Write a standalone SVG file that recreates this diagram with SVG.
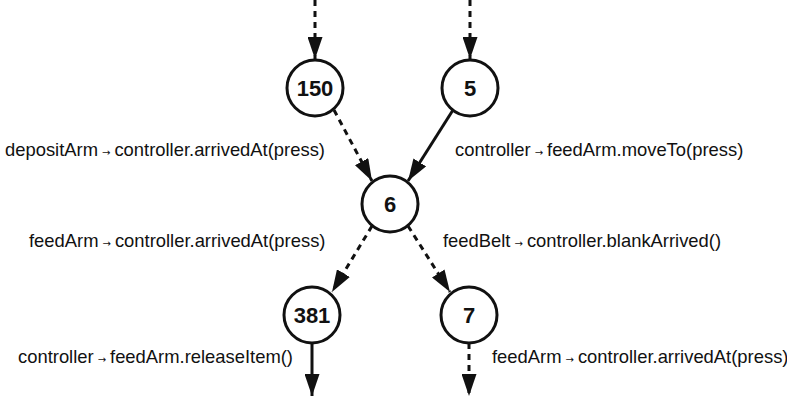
<svg xmlns="http://www.w3.org/2000/svg" width="787" height="398" viewBox="0 0 787 398">
<style>
.node circle{fill:#fff;stroke:#111;stroke-width:3}
.node text{font-family:"Liberation Sans",Arial,sans-serif;font-weight:bold;font-size:22px;text-anchor:middle;fill:#111}
.edge{stroke:#111;stroke-width:3;fill:none}
.dash{stroke-dasharray:6,5}
.lbl{font-family:"Liberation Sans",Arial,sans-serif;font-size:18.4px;fill:#111}
.arr{font-family:"DejaVu Sans",sans-serif;font-size:10px}
</style>
<defs>
<marker id="ah" markerWidth="22" markerHeight="15" refX="22" refY="7.5" viewBox="0 0 22 15" markerUnits="userSpaceOnUse" orient="auto">
<path d="M0,0 L22,7.5 L0,15 Z" fill="#111"/>
</marker>
</defs>
<g id="connectors">
<line class="edge dash" x1="315" y1="0" x2="315" y2="59" marker-end="url(#ah)"/>
<line class="edge dash" x1="470" y1="0" x2="470" y2="59" marker-end="url(#ah)"/>
<line class="edge dash" x1="334" y1="110" x2="372" y2="181" marker-end="url(#ah)"/>
<line class="edge" x1="453" y1="110" x2="408" y2="181" marker-end="url(#ah)"/>
<line class="edge dash" x1="372" y1="226" x2="332" y2="292" marker-end="url(#ah)"/>
<line class="edge dash" x1="408" y1="226" x2="450" y2="292" marker-end="url(#ah)"/>
<line class="edge" x1="312" y1="343" x2="312" y2="396" marker-end="url(#ah)"/>
<line class="edge dash" x1="469" y1="343" x2="469" y2="396" marker-end="url(#ah)"/>
</g>
<g id="n150" class="node"><circle cx="315" cy="88" r="28"/><text x="315" y="96">150</text></g>
<g id="n5" class="node"><circle cx="470" cy="88" r="28"/><text x="470" y="96">5</text></g>
<g id="n6" class="node"><circle cx="390" cy="204" r="28"/><text x="390" y="212">6</text></g>
<g id="n381" class="node"><circle cx="312" cy="315" r="28"/><text x="312" y="323">381</text></g>
<g id="n7" class="node"><circle cx="469" cy="315" r="28"/><text x="469" y="323">7</text></g>
<g id="labels">
<text class="lbl" x="5" y="156">depositArm<tspan class="arr" dx="4">→</tspan><tspan dx="4">controller.arrivedAt(press)</tspan></text>
<text class="lbl" x="455" y="156">controller<tspan class="arr" dx="4">→</tspan><tspan dx="4">feedArm.moveTo(press)</tspan></text>
<text class="lbl" x="29" y="247">feedArm<tspan class="arr" dx="4">→</tspan><tspan dx="4">controller.arrivedAt(press)</tspan></text>
<text class="lbl" x="443" y="247">feedBelt<tspan class="arr" dx="4">→</tspan><tspan dx="4">controller.blankArrived()</tspan></text>
<text class="lbl" x="18" y="363">controller<tspan class="arr" dx="4">→</tspan><tspan dx="4">feedArm.releaseItem()</tspan></text>
<text class="lbl" x="492" y="363">feedArm<tspan class="arr" dx="4">→</tspan><tspan dx="4">controller.arrivedAt(press)</tspan></text>
</g>
</svg>
